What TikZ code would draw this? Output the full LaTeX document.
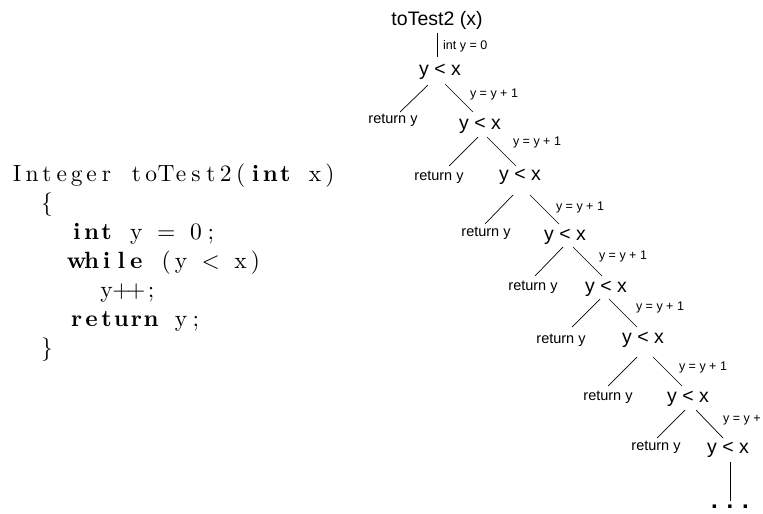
\documentclass[tikz,border=0pt]{standalone}
\usepackage{fontspec}
\newfontfamily\arialf{Liberation Sans}
\newfontfamily\cmten{lmroman10-regular}[Extension=.otf, BoldFont=lmroman10-bold]
\newlength\cellw \setlength\cellw{14.9pt}
\def\bON{bON}\def\bOFF{bOFF}
\def\fc#1{\hbox to \cellw{\hss#1\hss}}
\def\fl#1{\flx#1\relax}
\def\flx#1{\ifx#1\relax\let\flnext\relax\else\ifx#1\bON\bfseries\let\flnext\flx\else\ifx#1\bOFF\mdseries\let\flnext\flx\else\fc{#1}\let\flnext\flx\fi\fi\fi\flnext}
\newcommand\lnk[6]{\draw[conn] ([shift={(#2,#3)}]#1.base) -- ([shift={(#5,#6)}]#4.base);}
\tikzset{
  cond/.style={inner sep=0pt, anchor=base, font=\arialf\fontsize{19.5}{22}\selectfont},
  ret/.style={inner sep=0pt, anchor=base, font=\arialf\fontsize{14.5}{17}\selectfont},
  lab/.style={inner sep=0pt, anchor=base, font=\arialf\fontsize{12.5}{15}\selectfont},
  codeline/.style={inner sep=0pt, anchor=base west, font=\cmten\fontsize{23.5}{29}\selectfont},
  conn/.style={line width=0.7pt, draw=black},
}
\begin{document}
\begin{tikzpicture}[x=1pt,y=-1pt]
\useasboundingbox (0,0) rectangle (763,514);
\clip (0,0) rectangle (763,514);
% code
\node[codeline] (k1) at (9.5,181) {\fl{Integer~toTest2(\bON int\bOFF~x)}};
\node[codeline] (k2) at (9.5,210) {\fl{~~\{}};
\node[codeline] (k3) at (9.5,239) {\fl{~~~~\bON int\bOFF~y~=~0;}};
\node[codeline] (k4) at (9.5,268) {\fl{~~~~\bON while\bOFF~(y~<~x)}};
\node[codeline] (k5) at (9.5,297) {\fl{~~~~~~y++;}};
\node[codeline] (k6) at (9.5,326) {\fl{~~~~\bON return\bOFF~y;}};
\node[codeline] (k7) at (9.5,355) {\fl{~~\}}};
% tree
\node[cond] (t0) at (437,25) {toTest2 (x)};
\node[lab, anchor=base west] (l0) at (443,49) {int y = 0};
\node[cond] (c1) at (440,75) {y < x};
\node[cond] (c2) at (480,129) {y < x};
\node[cond] (c3) at (520,180) {y < x};
\node[cond] (c4) at (565,240) {y < x};
\node[cond] (c5) at (606,292) {y < x};
\node[cond] (c6) at (643,343) {y < x};
\node[cond] (c7) at (688,402) {y < x};
\node[cond] (c8) at (728,453) {y < x};
\node[ret] (r1) at (393,123) {return y};
\node[ret] (r2) at (439,180) {return y};
\node[ret] (r3) at (486,236) {return y};
\node[ret] (r4) at (533,290) {return y};
\node[ret] (r5) at (561,343) {return y};
\node[ret] (r6) at (608,400) {return y};
\node[ret] (r7) at (656,450) {return y};
\node[lab] (l1) at (494,97) {y = y + 1};
\node[lab] (l2) at (537,145) {y = y + 1};
\node[lab] (l3) at (580,210) {y = y + 1};
\node[lab] (l4) at (623,259) {y = y + 1};
\node[lab] (l5) at (660,310) {y = y + 1};
\node[lab] (l6) at (703,370) {y = y + 1};
\node[lab, anchor=base west] (l7) at (723,422) {y = y +};
\node[inner sep=0pt, anchor=base, font=\arialf\bfseries\fontsize{24}{26}\selectfont] (dots) at (730,508) {. . .};
% connectors
\lnk{t0}{0}{8}{c1}{-3}{-18}
\lnk{c1}{-12}{10}{r1}{7}{-11}
\lnk{c1}{5}{9}{c2}{-7}{-17}
\lnk{c2}{-2}{8}{r2}{10}{-14}
\lnk{c2}{7}{8}{c3}{-4}{-14}
\lnk{c3}{-7}{15}{r3}{-1}{-12}
\lnk{c3}{10}{15}{c4}{-6}{-16}
\lnk{c4}{-2}{7}{r4}{2}{-14}
\lnk{c4}{8}{7}{c5}{-4}{-16}
\lnk{c5}{-6}{7}{r5}{11}{-16}
\lnk{c5}{3}{7}{c6}{-6}{-16}
\lnk{c6}{-6}{14}{r6}{0}{-14}
\lnk{c6}{10}{14}{c7}{-6}{-16}
\lnk{c7}{-3}{8}{r7}{1}{-12}
\lnk{c7}{8}{8}{c8}{-5}{-15}
\lnk{c8}{2}{9}{dots}{0}{-7}
\end{tikzpicture}
\end{document}
